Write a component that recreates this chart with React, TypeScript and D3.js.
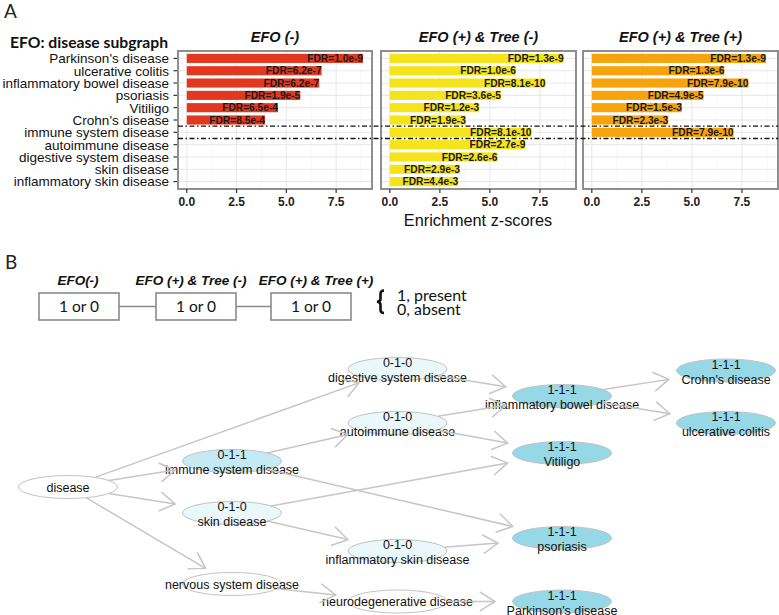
import React from "react";
import * as d3 from "d3";

// ---------- Panel A data ----------
const categories = [
  "Parkinson's disease",
  "ulcerative colitis",
  "inflammatory bowel disease",
  "psoriasis",
  "Vitiligo",
  "Crohn's disease",
  "immune system disease",
  "autoimmune disease",
  "digestive system disease",
  "skin disease",
  "inflammatory skin disease",
];
const efoMinusZ = [8.85, 6.77, 6.65, 5.7, 4.58, 3.93, null, null, null, null, null];
const efoMinusFdr = ["1.0e-9", "6.2e-7", "6.2e-7", "1.9e-5", "6.5e-4", "8.5e-4", null, null, null, null, null];
const treeMinusZ = [8.68, 6.3, 7.77, 5.55, 4.47, 3.8, 7.08, 6.77, 5.38, 3.5, 3.42];
const treeMinusFdr = ["1.3e-9", "1.0e-6", "8.1e-10", "3.6e-5", "1.2e-3", "1.9e-3", "8.1e-10", "2.7e-9", "2.6e-6", "2.9e-3", "4.4e-3"];
const treePlusZ = [8.7, 6.62, 7.82, 5.58, 4.5, 3.82, 7.08, null, null, null, null];
const treePlusFdr = ["1.3e-9", "1.3e-6", "7.9e-10", "4.9e-5", "1.5e-3", "2.3e-3", "7.9e-10", null, null, null, null];
const facetTitles = ["EFO (-)", "EFO (+) & Tree (-)", "EFO (+) & Tree (+)"];
const xTicks = [0, 2.5, 5, 7.5];
const xMinor = [1.25, 3.75, 6.25, 8.75];
const xDomain = [-0.44, 9.3];

// ---------- Panel B data ----------
const legendBoxes = ["EFO(-)", "EFO (+) & Tree (-)", "EFO (+) & Tree (+)"];
const nodeNames = [
  "disease",
  "immune system disease",
  "skin disease",
  "nervous system disease",
  "digestive system disease",
  "autoimmune disease",
  "inflammatory skin disease",
  "neurodegenerative disease",
  "inflammatory bowel disease",
  "Vitiligo",
  "psoriasis",
  "Parkinson's disease",
  "Crohn's disease",
  "ulcerative colitis",
];
const nodeCodes = [null, "0-1-1", "0-1-0", null, "0-1-0", "0-1-0", "0-1-0", null, "1-1-1", "1-1-1", "1-1-1", "1-1-1", "1-1-1", "1-1-1"];
const edgeSources = [
  "disease", "disease", "disease", "disease",
  "immune system disease", "immune system disease",
  "skin disease", "skin disease",
  "nervous system disease",
  "digestive system disease",
  "autoimmune disease", "autoimmune disease",
  "inflammatory skin disease",
  "neurodegenerative disease",
  "inflammatory bowel disease", "inflammatory bowel disease",
];
const edgeTargets = [
  "digestive system disease", "immune system disease", "skin disease", "nervous system disease",
  "autoimmune disease", "psoriasis",
  "Vitiligo", "inflammatory skin disease",
  "neurodegenerative disease",
  "inflammatory bowel disease",
  "inflammatory bowel disease", "Vitiligo",
  "psoriasis",
  "Parkinson's disease",
  "Crohn's disease", "ulcerative colitis",
];

// layout of the network (column / y position per node)
const nodeLayout: Record<string, [number, number]> = {
  "disease": [68, 487],
  "immune system disease": [232, 461],
  "skin disease": [232, 513],
  "nervous system disease": [232, 584],
  "digestive system disease": [397.5, 369],
  "autoimmune disease": [397.5, 423],
  "inflammatory skin disease": [397.5, 551],
  "neurodegenerative disease": [397.5, 601.5],
  "inflammatory bowel disease": [562, 396],
  "Vitiligo": [562, 453],
  "psoriasis": [562, 538],
  "Parkinson's disease": [562, 601.5],
  "Crohn's disease": [726, 370.5],
  "ulcerative colitis": [726, 423],
};

const SANS = "'Liberation Sans', Arial, Helvetica, sans-serif";
const HUM = "Lato, 'Open Sans', sans-serif";

function fillFor(code: string | null) {
  if (code === "1-1-1") return "#97d8e6";
  if (code === "0-1-1") return "#c6eaf4";
  if (code === "0-1-0") return "#eaf7fb";
  return "#ffffff";
}

export default function App() {
  const W = 779, H = 615;
  const top = 51, bottom = 189;
  const panelX: [number, number][] = [[178, 372], [381, 576], [583, 778]];
  const seriesZ = [efoMinusZ, treeMinusZ, treePlusZ];
  const seriesF = [efoMinusFdr, treeMinusFdr, treePlusFdr];
  const colors = ["#e2381f", "#f5e41c", "#f7a30c"];

  const y = d3.scalePoint<string>().domain(categories).range([top, bottom]).padding(0.6);
  const step = y.step();
  const barH = step * 0.74;
  const dashY1 = ((y(categories[5]) as number) + (y(categories[6]) as number)) / 2;
  const dashY2 = ((y(categories[6]) as number) + (y(categories[7]) as number)) / 2;

  // network geometry
  const RX = 49.5, RY = 11.5;
  const ARX = 67, ARY = 17;
  const boundary = (dx: number, dy: number, rx: number, ry: number) => {
    const t = 1 / Math.sqrt((dx / rx) ** 2 + (dy / ry) ** 2);
    return [dx * t, dy * t];
  };
  const edges = edgeSources.map((s, i) => {
    const [sx, sy] = nodeLayout[s];
    const [tx, ty] = nodeLayout[edgeTargets[i]];
    const dx = tx - sx, dy = ty - sy;
    const [ox, oy] = boundary(dx, dy, RX, RY);
    const [ax, ay] = boundary(dx, dy, ARX, ARY);
    const x1 = sx + ox, y1 = sy + oy;
    const x2 = tx - ax, y2 = ty - ay;
    const len = Math.hypot(dx, dy);
    const ux = dx / len, uy = dy / len;
    const L = 18, th = (32 * Math.PI) / 180;
    const rot = (a: number) => [ux * Math.cos(a) - uy * Math.sin(a), ux * Math.sin(a) + uy * Math.cos(a)];
    const [r1x, r1y] = rot(th);
    const [r2x, r2y] = rot(-th);
    const line = d3.line()([[x1, y1], [x2, y2]]) as string;
    const head = d3.line()([[x2 - L * r1x, y2 - L * r1y], [x2, y2], [x2 - L * r2x, y2 - L * r2y]]) as string;
    return { line, head, key: s + "->" + edgeTargets[i] };
  });

  const boxCenters = [79, 196, 311];
  const headerCenters = [78, 191, 316];
  const boxW = 80, boxH = 27, boxY = 293;

  return (
    <svg width={W} height={H} viewBox={`0 0 ${W} ${H}`} style={{ position: "absolute", left: 0, top: 0, background: "#fff" }}>
      <rect x={0} y={0} width={W} height={H} fill="#fff" />
      {/* Panel A label */}
      <text x={4} y={18} fontFamily={HUM} fontSize={19} fill="#222">A</text>
      <text x={10} y={48} fontFamily={HUM} fontWeight="bold" fontSize={15.5} fill="#111" textLength={158} lengthAdjust="spacingAndGlyphs">EFO: disease subgraph</text>

      {/* y axis */}
      {categories.map((c) => (
        <g key={c}>
          <line x1={173.5} x2={177} y1={y(c)} y2={y(c)} stroke="#333" strokeWidth={1.2} />
          <text x={169} y={y(c)} dy="0.36em" textAnchor="end" fontFamily={SANS} fontSize={13.5} fill="#111">{c}</text>
        </g>
      ))}

      {panelX.map(([x0, x1], p) => {
        const x = d3.scaleLinear().domain(xDomain).range([x0, x1]);
        const vals = seriesZ[p];
        const fdr = seriesF[p];
        return (
          <g key={p}>
            <text x={(x0 + x1) / 2} y={42} textAnchor="middle" fontFamily={SANS} fontWeight="bold" fontStyle="italic" fontSize={14.5} fill="#111">{facetTitles[p]}</text>
            <rect x={x0} y={top} width={x1 - x0} height={bottom - top} fill="#fff" />
            {xMinor.map((t) => (
              <line key={"m" + t} x1={x(t)} x2={x(t)} y1={top} y2={bottom} stroke="#f1f1f5" strokeWidth={0.6} />
            ))}
            {xTicks.map((t) => (
              <line key={"g" + t} x1={x(t)} x2={x(t)} y1={top} y2={bottom} stroke="#e6e6ec" strokeWidth={1} />
            ))}
            {categories.map((c) => (
              <line key={"h" + c} x1={x0} x2={x1} y1={y(c)} y2={y(c)} stroke="#e6e6ec" strokeWidth={1} />
            ))}
            {categories.map((c, i) => {
              const v = vals[i];
              if (v == null) return null;
              const yc = y(c) as number;
              return (
                <g key={"b" + c}>
                  <rect x={x(0)} y={yc - barH / 2} width={x(v) - x(0)} height={barH} fill={colors[p]} />
                  <text x={x(v)} y={yc} dy="0.36em" textAnchor="end" fontFamily={SANS} fontWeight="bold" fontSize={10.2} fill="#1a1a1a">{"FDR=" + fdr[i]}</text>
                </g>
              );
            })}
            <rect x={x0} y={top} width={x1 - x0} height={bottom - top} fill="none" stroke="#8f8f8f" strokeWidth={2} />
            {xTicks.map((t) => (
              <g key={"t" + t}>
                <line x1={x(t)} x2={x(t)} y1={bottom} y2={bottom + 4} stroke="#333" strokeWidth={1.2} />
                <text x={x(t)} y={206} textAnchor="middle" fontFamily={SANS} fontWeight="bold" fontSize={12} fill="#222">{t.toFixed(1)}</text>
              </g>
            ))}
          </g>
        );
      })}
      {/* dash-dot separators */}
      {[dashY1, dashY2].map((dy, i) => (
        <line key={i} x1={178} x2={778} y1={dy} y2={dy} stroke="#111" strokeWidth={1.4} strokeDasharray="5,2.5,1.5,2.5" />
      ))}
      <text x={478} y={226} textAnchor="middle" fontFamily={SANS} fontSize={16.3} fill="#111">Enrichment z-scores</text>

      {/* Panel B */}
      <text x={5} y={269} fontFamily={HUM} fontSize={19} fill="#222">B</text>
      {legendBoxes.map((lbl, i) => (
        <g key={lbl}>
          <text x={headerCenters[i]} y={285} textAnchor="middle" fontFamily={SANS} fontWeight="bold" fontStyle="italic" fontSize={13.5} fill="#111">{lbl}</text>
          <rect x={boxCenters[i] - boxW / 2} y={boxY} width={boxW} height={boxH} fill="#fff" stroke="#8a8a8a" strokeWidth={1.6} />
          <text x={boxCenters[i]} y={boxY + boxH / 2} dy="0.36em" textAnchor="middle" fontFamily={HUM} fontSize={15.5} fill="#111">1 or 0</text>
        </g>
      ))}
      {[0, 1].map((i) => (
        <line key={"c" + i} x1={boxCenters[i] + boxW / 2} x2={boxCenters[i + 1] - boxW / 2} y1={boxY + boxH / 2} y2={boxY + boxH / 2} stroke="#8a8a8a" strokeWidth={1.3} />
      ))}
      <path d="M384,290.5 Q380.5,290.5 380.5,294 L380.5,299 Q380.5,301.5 377,301.8 Q380.5,302.2 380.5,304.5 L380.5,309.5 Q380.5,313 384,313" fill="none" stroke="#111" strokeWidth={2.6} />
      <text x={397} y={300.5} fontFamily={HUM} fontSize={16} fill="#111">1, present</text>
      <text x={397} y={315} fontFamily={HUM} fontSize={16} fill="#111">0, absent</text>

      {/* network nodes */}
      {nodeNames.map((n, i) => {
        const [cx, cy] = nodeLayout[n];
        const code = nodeCodes[i];
        return (
          <g key={n}>
            <ellipse cx={cx} cy={cy} rx={RX} ry={RY} fill={fillFor(code)} stroke="#c2c2c2" strokeWidth={1} />
            {code ? (
              <>
                <text x={cx} y={cy - 6.5} dy="0.36em" textAnchor="middle" fontFamily={SANS} fontSize={12.5} fill="#111">{code}</text>
                <text x={cx} y={cy + 8.5} dy="0.36em" textAnchor="middle" fontFamily={SANS} fontSize={12.5} fill="#111">{n}</text>
              </>
            ) : (
              <text x={cx} y={cy} dy="0.36em" textAnchor="middle" fontFamily={SANS} fontSize={12.5} fill="#111">{n}</text>
            )}
          </g>
        );
      })}
      {/* network edges */}
      {edges.map((e) => (
        <g key={e.key} fill="none" stroke="#c6c6c6" strokeWidth={1.5}>
          <path d={e.line} />
          <path d={e.head} />
        </g>
      ))}
    </svg>
  );
}
